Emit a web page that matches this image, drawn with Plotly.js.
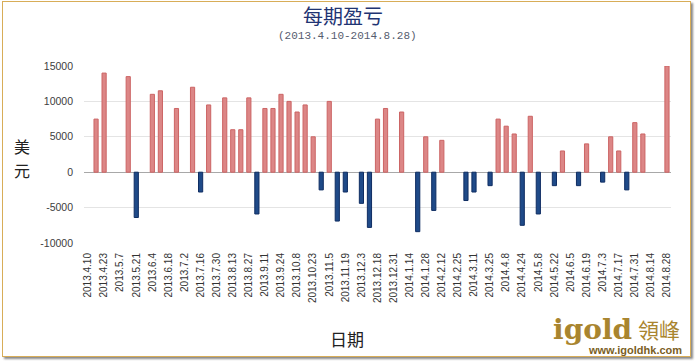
<!DOCTYPE html>
<html>
<head>
<meta charset="utf-8">
<script src="https://cdn.plot.ly/plotly-3.0.1.min.js"></script>
<style>
  html, body { margin: 0; padding: 0; background: #ffffff; }
  #wrap { position: relative; width: 695px; height: 362px; overflow: hidden; background: #fff; }
  #frame { position: absolute; left: 2px; top: 1px; width: 687px; height: 354px;
           border: 1.5px solid #d8ad58; box-shadow: 2px 2px 2px #8a8a8a; }
  #chart { position: absolute; left: 0; top: 0; width: 695px; height: 362px; }
</style>
</head>
<body>
<div id="wrap">
  <div id="frame"></div>
  <div id="chart"></div>
</div>
<script>
// Tick labels (every other period is labelled)
const tickLabels = [
  "2013.4.10","2013.4.23","2013.5.7","2013.5.21","2013.6.4","2013.6.18","2013.7.2",
  "2013.7.16","2013.7.30","2013.8.13","2013.8.27","2013.9.11","2013.9.24","2013.10.8",
  "2013.10.23","2013.11.5","2013.11.19","2013.12.3","2013.12.18","2013.12.31",
  "2014.1.14","2014.1.28","2014.2.12","2014.2.25","2014.3.11","2014.3.25","2014.4.8",
  "2014.4.24","2014.5.8","2014.5.22","2014.6.5","2014.6.19","2014.7.3","2014.7.17",
  "2014.7.31","2014.8.14","2014.8.28"
];

// Per-period profit / loss (USD), one value per weekly period (73 periods)
const pnl = [
  null, 7500, 14000, null, null, 13500, -6400, null, 11000, 11500,
  null, 9000, null, 12000, -2800, 9500, null, 10500, 6000, 6000,
  10500, -5900, 9000, 9000, 11000, 10000, 8500, 9500, 5000, -2500,
  10000, -6900, -2800, null, -4400, -7800, 7500, 9000, null, 8500,
  null, -8400, 5000, -5400, 4500, null, null, -4000, -2800, null,
  -1900, 7500, 6500, 5400, -7500, 7900, -5900, null, -1900, 3000,
  null, -1900, 4000, null, -1400, 5000, 3000, -2500, 7000, 5400,
  null, null, 15000
];

const yTicks = [-10000, -5000, 0, 5000, 10000, 15000];
const yTickText = ["-10000", "-5000", "0", "5000", "10000", "15000"];

const titleText = "每期盈亏";
const subtitleText = "(2013.4.10-2014.8.28)";
const yTitleChars = ["美", "元"];
const xTitle = "日期";

// ---- build ----
const W = 695, H = 362, L = 84, R = 24, T = 66, B = 119;
const px = x => (x - L) / (W - L - R);
const py = y => (H - B - y) / (H - T - B);

const periods = pnl.map((_, i) => i);
const tickvals = tickLabels.map((_, i) => i * 2);
const fill = pnl.map(v => (v !== null && v < 0) ? "#1f4a88" : "#dc8686");
const edge = pnl.map(v => (v !== null && v < 0) ? "#0f2d62" : "#cc6464");

const trace = {
  type: "bar",
  x: periods,
  y: pnl,
  width: 0.52,
  marker: { color: fill, line: { color: edge, width: 1 } },
  hoverinfo: "skip"
};

const yTitleAnn = yTitleChars.map((c, i) => ({
  text: c, xref: "paper", yref: "paper", x: px(22), y: py(146 + i * 24),
  showarrow: false, xanchor: "center", yanchor: "middle",
  font: { family: "Noto Sans CJK SC", size: 16, color: "#222222" }
}));

const layout = {
  width: W, height: H,
  margin: { l: L, r: R, t: T, b: B, pad: 0 },
  paper_bgcolor: "rgba(0,0,0,0)",
  plot_bgcolor: "rgba(0,0,0,0)",
  showlegend: false,
  hovermode: false,
  title: {
    text: titleText,
    xref: "container", yref: "container",
    x: 343 / W, y: 1 - 17 / H,
    xanchor: "center", yanchor: "middle",
    font: { family: "Noto Sans CJK SC", size: 20, color: "#1f3473" }
  },
  xaxis: {
    range: [-0.5, 72.5],
    tickmode: "array",
    tickvals: tickvals,
    ticktext: tickLabels,
    tickangle: -90,
    ticks: "",
    ticklabelstandoff: 7,
    showgrid: false, zeroline: false, showline: false,
    automargin: false,
    tickfont: { family: "Liberation Sans", size: 10, color: "#333333" }
  },
  yaxis: {
    range: [-10000, 15000],
    tickmode: "array",
    tickvals: yTicks,
    ticktext: yTickText,
    ticks: "",
    ticklabelstandoff: 10,
    showgrid: true, gridcolor: "#e4e4e4", gridwidth: 1,
    zeroline: true, zerolinecolor: "#a8a8a8", zerolinewidth: 1,
    showline: false,
    automargin: false,
    tickfont: { family: "Liberation Sans", size: 10.5, color: "#404040" }
  },
  annotations: [
    { text: subtitleText, xref: "paper", yref: "paper", x: px(347), y: py(36),
      showarrow: false, xanchor: "center", yanchor: "middle",
      font: { family: "Liberation Mono", size: 11, color: "#555c6e" } },
    ...yTitleAnn,
    { text: xTitle, xref: "paper", yref: "paper", x: px(347), y: py(338),
      showarrow: false, xanchor: "center", yanchor: "middle",
      font: { family: "Noto Sans CJK SC", size: 17, color: "#222222" } },
    { text: "<b>igold</b>", xref: "paper", yref: "paper", x: px(592), y: py(329),
      showarrow: false, xanchor: "center", yanchor: "middle",
      font: { family: "DejaVu Serif", size: 28, color: "#a9852f" } },
    { text: "領峰", xref: "paper", yref: "paper", x: px(659), y: py(329),
      showarrow: false, xanchor: "center", yanchor: "middle",
      font: { family: "Noto Sans CJK TC", size: 21, color: "#a9852f" } },
    { text: "<b>www.igoldhk.com</b>", xref: "paper", yref: "paper", x: px(635), y: py(350),
      showarrow: false, xanchor: "center", yanchor: "middle",
      font: { family: "Liberation Sans", size: 11, color: "#7a5e24" } }
  ]
};

Plotly.newPlot("chart", [trace], layout, { displayModeBar: false, staticPlot: true });
</script>
</body>
</html>
